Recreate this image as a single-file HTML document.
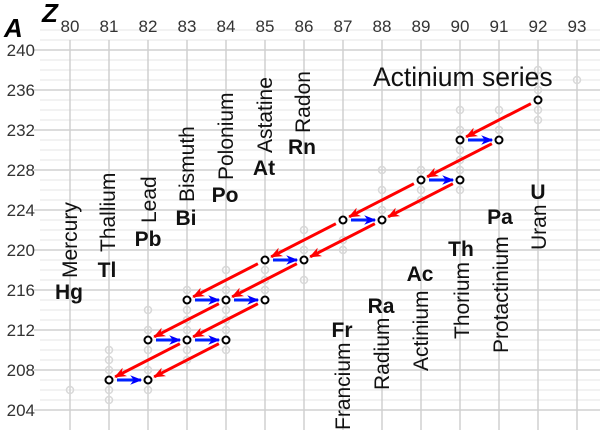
<!DOCTYPE html>
<html><head><meta charset="utf-8"><style>
html,body{margin:0;padding:0;background:#fff}
svg{display:block}
text{font-family:"Liberation Sans",sans-serif}
</style></head><body>
<svg width="600" height="435" viewBox="0 0 600 435" xmlns="http://www.w3.org/2000/svg">
<defs>
<marker id="ar" viewBox="0 0 10 10" refX="9" refY="5" markerWidth="4" markerHeight="4" orient="auto" markerUnits="strokeWidth"><path d="M0,1 L10,5 L0,9 L3,5 z" fill="#ff0000"/></marker>
<marker id="ab" viewBox="0 0 10 10" refX="9" refY="5" markerWidth="4" markerHeight="4" orient="auto" markerUnits="strokeWidth"><path d="M0,1 L10,5 L0,9 L3,5 z" fill="#0000ff"/></marker>
</defs>
<g id="grid"></g>
<g id="faint" fill="none" stroke="#d8d8d8" stroke-width="1.5"></g>
<g id="arrows"></g>
<g id="pts" fill="#fff" stroke="#000" stroke-width="2"></g>
<g id="labels" font-size="21" fill="#111"></g>
<text x="42" y="22" font-size="26" font-weight="bold" font-style="italic">Z</text>
<text x="4" y="37" font-size="26" font-weight="bold" font-style="italic">A</text>
<text x="373" y="86" font-size="26.5" fill="#111">Actinium series</text>
<script>
var NS="http://www.w3.org/2000/svg";
function X(z){return 70+(z-80)*39;}
function Y(a){return 50+(240-a)*10;}
function el(p,t,at,txt){var e=document.createElementNS(NS,t);for(var k in at)e.setAttribute(k,at[k]);if(txt)e.textContent=txt;document.getElementById(p).appendChild(e);return e;}
for(var a=204;a<=242;a++){var y=Y(a);if(y>430)continue;el("grid","line",{x1:40,x2:600,y1:y,y2:y,stroke:a%4==0?"#d0d0d0":"#eeeeee","stroke-width":1.5});}
for(var z=80;z<=93;z++){el("grid","line",{x1:X(z),x2:X(z),y1:40,y2:430,stroke:"#d0d0d0","stroke-width":1.5});el("grid","text",{x:X(z),y:32,"text-anchor":"middle","font-size":"17",fill:"#333"},""+z);}
for(var a=204;a<=240;a+=4){el("grid","line",{x1:34,x2:40,y1:Y(a),y2:Y(a),stroke:"#d0d0d0","stroke-width":1.5});el("grid","text",{x:35,y:Y(a)+6,"text-anchor":"end","font-size":"17",fill:"#333"},""+a);}
var faint=[[80,206],[81,205],[81,206],[81,208],[81,209],[81,210],[82,206],[82,208],[82,210],[82,212],[82,214],[83,209],[83,210],[83,212],[83,213],[83,214],[83,216],[84,210],[84,212],[84,213],[84,214],[84,216],[84,218],[85,216],[85,217],[85,218],[86,217],[86,220],[86,222],[87,220],[87,221],[88,224],[88,226],[88,228],[89,225],[89,226],[89,228],[90,226],[90,228],[90,229],[90,230],[90,232],[90,234],[91,232],[91,234],[92,233],[92,234],[92,236],[92,238],[93,237]];
faint.forEach(function(p){el("faint","circle",{cx:X(p[0]),cy:Y(p[1]),r:3.5});});
function arr(z1,a1,z2,a2,c){var x1=X(z1),y1=Y(a1),x2=X(z2),y2=Y(a2);var dx=x2-x1,dy=y2-y1,L=Math.sqrt(dx*dx+dy*dy);var s=8/L,e=7/L;el("arrows","line",{x1:x1+dx*s,y1:y1+dy*s,x2:x2-dx*e,y2:y2-dy*e,stroke:c=="r"?"#ff0000":"#0022ff","stroke-width":3,"marker-end":c=="r"?"url(#ar)":"url(#ab)"});}
[[92,235,90,231],[91,231,89,227],[90,227,88,223],[89,227,87,223],[88,223,86,219],[87,223,85,219],[86,219,84,215],[85,219,83,215],[84,215,82,211],[85,215,83,211],[83,211,81,207],[84,211,82,207]].forEach(function(p){arr(p[0],p[1],p[2],p[3],"r");});
[[90,91,231],[89,90,227],[87,88,223],[85,86,219],[83,84,215],[84,85,215],[82,83,211],[83,84,211],[81,82,207]].forEach(function(p){arr(p[0],p[2],p[1],p[2],"b");});
[[92,235],[90,231],[91,231],[89,227],[90,227],[87,223],[88,223],[85,219],[86,219],[83,215],[84,215],[85,215],[82,211],[83,211],[84,211],[81,207],[82,207]].forEach(function(p){el("pts","circle",{cx:X(p[0]),cy:Y(p[1]),r:3.5});});
[["Mercury","Hg",69,278,299],["Thallium","Tl",107,252,277],["Lead","Pb",148,223,246],["Bismuth","Bi",186,202,225],["Polonium","Po",225,180,202],["Astatine","At",264,153,175],["Radon","Rn",302,133,154],
 ["Francium","Fr",342,430,337],["Radium","Ra",381,390,313],["Actinium","Ac",420,371,281],["Thorium","Th",461,339,256],["Protactinium","Pa",500,353,224],["Uran","U",538,250,199]].forEach(function(l){
 el("labels","text",{transform:"translate("+(l[2]+8)+","+l[3]+") rotate(-90)"},l[0]);
 el("labels","text",{x:l[2],y:l[4],"text-anchor":"middle","font-weight":"bold"},l[1]);
});
</script>
</svg>
</body></html>
